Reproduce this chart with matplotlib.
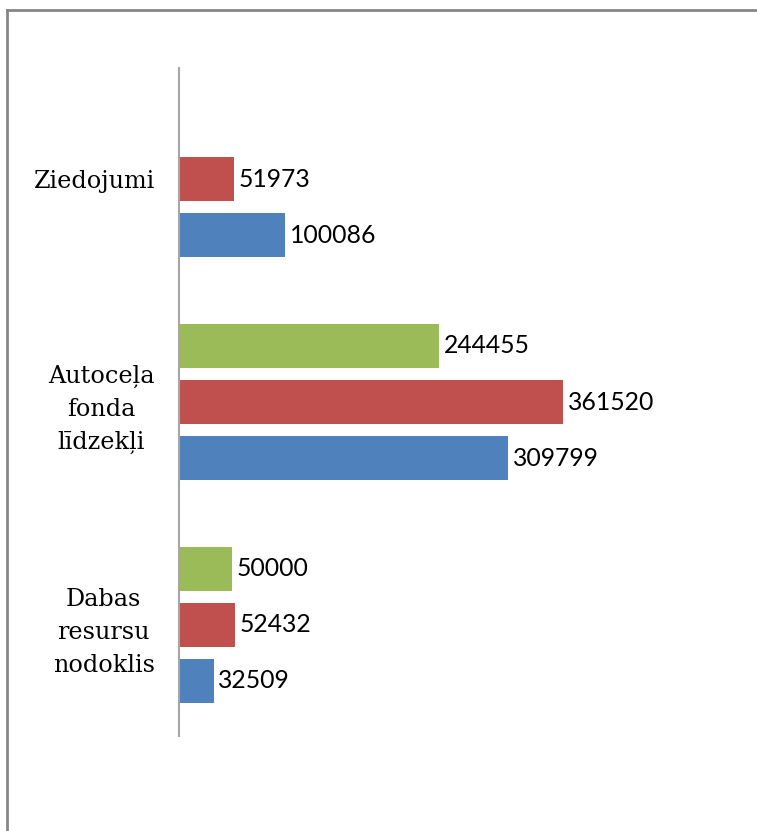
import numpy as np
import matplotlib.pyplot as plt
from matplotlib.lines import Line2D

# --- Data (bottom to top) ---
categories = ["Dabas\nresursu\nnodoklis", "Autoceļa\nfonda\nlīdzekļi", "Ziedojumi"]
blue_vals = [32509, 309799, 100086]
red_vals = [52432, 361520, 51973]
green_vals = [50000, 244455, np.nan]

series = [
    (blue_vals, "#4F81BD", -0.2515),
    (red_vals, "#C0504D", 0.0),
    (green_vals, "#9BBB59", 0.2515),
]

# --- Figure ---
fig = plt.figure(figsize=(7.57, 8.31), dpi=100)
ax = fig.add_axes([179 / 757, (831 - 736) / 831, (700 - 179) / 757, (736 - 68) / 831])

y = np.arange(len(categories))
for vals, color, off in series:
    vals = np.array(vals, dtype=float)
    ok = ~np.isnan(vals)
    ax.barh(y[ok] + off, vals[ok], height=0.1976, color=color, zorder=2)
    for yy, v in zip(y[ok] + off, vals[ok]):
        ax.annotate(f"{int(v)}", xy=(v, yy), xytext=(3.5, 0), textcoords="offset points",
                    ha="left", va="center", fontsize=17.8, family=["Lato", "DejaVu Sans"],
                    color="black")

ax.set_xlim(0, 490600)
ax.set_ylim(-0.5, 2.5)
ax.set_xticks([])
ax.set_yticks(y)
ax.set_yticklabels(categories, fontsize=17.2, family=["DejaVu Serif"],
                   multialignment="center", linespacing=1.55)
ax.tick_params(axis="y", length=0, pad=17.5)

for s in ["top", "right", "bottom"]:
    ax.spines[s].set_visible(False)
ax.spines["left"].set_color("#A6A6A6")
ax.spines["left"].set_linewidth(1.5)

# outer frame (only top and left visible)
fig.add_artist(Line2D([7 / 757, 7 / 757], [0, (831 - 9.5) / 831], transform=fig.transFigure,
                      color="#868686", lw=2))
fig.add_artist(Line2D([7 / 757, 1], [(831 - 9.5) / 831, (831 - 9.5) / 831],
                      transform=fig.transFigure, color="#868686", lw=2))

fig.savefig("out.png", dpi=100)
